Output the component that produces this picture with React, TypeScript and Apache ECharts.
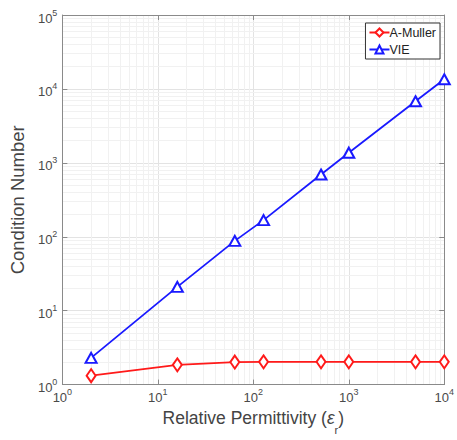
import React, { useEffect, useRef } from "react";
import * as echarts from "echarts";

const permittivity = [2, 16, 64, 128, 512, 1000, 5000, 10000];
const mullerValues = [1.32, 1.85, 2.02, 2.03, 2.03, 2.03, 2.03, 2.03];
const vieValues = [2.3, 21, 88, 168, 695, 1370, 6800, 13500];
const xDecades = [1, 10, 100, 1000];
const yDecades = [1, 10, 100, 1000, 10000];
const minorSteps = [2, 3, 4, 5, 6, 7, 8, 9];

const FONT = "Liberation Sans";
const GRID_MAJOR = "#e3e3e3";
const GRID_MINOR = "#f1f1f1";
const AXIS_COLOR = "#8a8a8a";

const powLabel = (v: number) => {
  const e = Math.round(Math.log10(v));
  return "{b|10}{s|" + e + "}";
};

const labelRich = {
  b: { fontSize: 13, lineHeight: 14, padding: [6, 0, 0, 0], color: "#4a4a4a", fontFamily: FONT },
  s: { fontSize: 9, lineHeight: 10, verticalAlign: "top", color: "#4a4a4a", fontFamily: FONT },
};

export default function App() {
  const ref = useRef<HTMLDivElement>(null);
  useEffect(() => {
    if (!ref.current) return;
    const chart = echarts.init(ref.current, null, { renderer: "svg" });
    const minorXLines: any[] = [];
    xDecades.forEach((d) => minorSteps.forEach((m) => minorXLines.push({ xAxis: d * m })));
    const minorYLines: any[] = [];
    yDecades.forEach((d) => minorSteps.forEach((m) => minorYLines.push({ yAxis: d * m })));

    const baseAxis = {
      type: "log",
      logBase: 10,
      axisLine: { show: true, lineStyle: { color: AXIS_COLOR, width: 1 } },
      axisTick: { show: true, inside: true, length: 5, lineStyle: { color: AXIS_COLOR } },
    };

    chart.setOption({
      animation: false,
      backgroundColor: "#ffffff",
      textStyle: { fontFamily: FONT },
      grid: { left: 60, right: 10, top: 15, bottom: 52, containLabel: false },
      legend: {
        data: ["A-Muller", "VIE"],
        orient: "vertical",
        right: 17,
        top: 23,
        backgroundColor: "#ffffff",
        borderColor: "#333333",
        borderWidth: 1,
        padding: [3, 4, 3, 3],
        itemGap: 4,
        itemWidth: 20,
        itemHeight: 10,
        textStyle: { fontSize: 12.5, color: "#222", fontFamily: FONT, padding: [0, 0, 0, -5] },
      },
      xAxis: [
        {
          ...baseAxis,
          min: 1,
          max: 10000,
          position: "bottom",
          name: "Relative Permittivity ({e|ε}{sub|r})",
          nameLocation: "middle",
          nameGap: 22,
          nameTextStyle: {
            fontSize: 17.5,
            color: "#444",
            fontFamily: FONT,
            rich: {
              e: { fontSize: 17.5, fontStyle: "italic", color: "#444", fontFamily: FONT },
              sub: { fontSize: 11, color: "#444", verticalAlign: "bottom", lineHeight: 10, padding: [0, 0, -8, 0], fontFamily: FONT },
            },
          },
          axisLabel: { formatter: powLabel, rich: labelRich, margin: 3 },
          splitLine: { show: true, lineStyle: { color: GRID_MAJOR, width: 1 } },
        },
        {
          ...baseAxis,
          min: 1,
          max: 10000,
          position: "top",
          axisLabel: { show: false },
          splitLine: { show: false },
        },
      ],
      yAxis: [
        {
          ...baseAxis,
          min: 1,
          max: 100000,
          position: "left",
          name: "Condition Number",
          nameLocation: "middle",
          nameGap: 30,
          nameTextStyle: { fontSize: 18.5, color: "#444", fontFamily: FONT },
          axisLabel: { formatter: powLabel, rich: labelRich, margin: 5 },
          splitLine: { show: true, lineStyle: { color: GRID_MAJOR, width: 1 } },
        },
        {
          ...baseAxis,
          min: 1,
          max: 100000,
          position: "right",
          axisLabel: { show: false },
          splitLine: { show: false },
        },
      ],
      series: [
        {
          name: "grid-minor",
          type: "line",
          z: 0,
          silent: true,
          data: [[1, 1]],
          showSymbol: false,
          lineStyle: { opacity: 0 },
          markLine: {
            z: 0,
            silent: true,
            symbol: "none",
            label: { show: false },
            lineStyle: { color: GRID_MINOR, width: 1, type: "solid" },
            data: [...minorXLines, ...minorYLines],
          },
        },
        {
          name: "A-Muller",
          type: "line",
          z: 3,
          data: permittivity.map((x, i) => [x, mullerValues[i]]),
          symbol: "emptyDiamond",
          symbolSize: [9, 13],
          lineStyle: { color: "#ff1a1a", width: 1.8 },
          itemStyle: { color: "#ff1a1a", borderWidth: 1.8 },
        },
        {
          name: "VIE",
          type: "line",
          z: 3,
          data: permittivity.map((x, i) => [x, vieValues[i]]),
          symbol: "emptyTriangle",
          symbolSize: [11, 10],
          lineStyle: { color: "#1a1aff", width: 1.8 },
          itemStyle: { color: "#1a1aff", borderWidth: 1.8 },
        },
      ],
    });
    return () => chart.dispose();
  }, []);
  return <div ref={ref} style={{ width: 457, height: 440, position: "absolute", left: 0, top: 0 }} />;
}
